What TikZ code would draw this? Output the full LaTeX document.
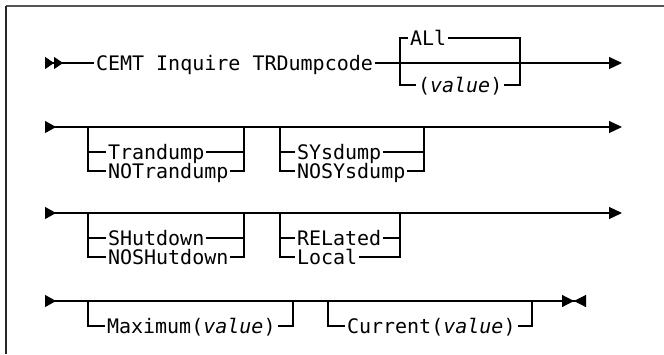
\documentclass[tikz,border=0pt]{standalone}
\usepackage{fontspec}
\setmainfont{DejaVu Sans Mono}
\usetikzlibrary{arrows.meta}
\definecolor{fgrey}{HTML}{555555}
\tikzset{
  rail/.style      = {line width=0.6pt},
  kw/.style        = {anchor=west, inner xsep=0.8pt, inner ysep=0pt,
                      text height=7pt, text depth=0pt},
  railbegin/.style = {rail, {Triangle[reversed,length=4.5pt,width=6pt]Triangle[reversed,length=4.5pt,width=6pt]}-},
  railout/.style   = {rail, -{Triangle[length=6.5pt,width=6pt]}},
  railrow/.style   = {rail, {Triangle[reversed,length=5.5pt,width=6pt]}-{Triangle[length=6.5pt,width=6pt]}},
  railstop/.style  = {rail, {Triangle[reversed,length=5.5pt,width=6pt]}-{Triangle[length=6pt,width=6pt]Triangle[reversed,length=6pt,width=6pt]}},
}
\begin{document}
\begin{tikzpicture}[x=0.5pt,y=-0.5pt,font=\fontsize{10}{12}\selectfont]
\useasboundingbox (0,0) rectangle (664,354);
\draw[fgrey,line width=1pt] (6,6) -- (664,6);
\draw[black!85,line width=1pt] (6,6) -- (6,354);
% row 1: command and ALl/(value)
\coordinate (r1s) at (45,63);
\coordinate (r1e) at (622,63);
\node[kw] (cmd) at (94,63) {CEMT Inquire TRDumpcode};
\draw[railbegin] (r1s) -- (cmd.west);
\draw[railout] (cmd.east) -- (r1e);
\coordinate (a1) at (400,63);
\coordinate (a2) at (520,63);
\node[kw] (all) at (408,38) {ALl};
\node[kw] (val) at (416,85) {(\textit{value})};
\draw[rail] (all.west) -| (a1) |- (val.west);
\draw[rail] (all.east) -| (a2) |- (val.east);
% row 2: Trandump, SYsdump
\coordinate (r2s) at (45,127);
\coordinate (r2e) at (622,127);
\draw[railrow] (r2s) -- (r2e);
\coordinate (b1) at (88,127);
\coordinate (b2) at (244,127);
\node[kw] (trd) at (106,152) {Trandump};
\node[kw] (notrd) at (106,171) {NOTrandump};
\draw[rail] (b1) |- (notrd.west);
\draw[rail] (b1 |- trd.west) -- (trd.west);
\draw[rail] (b2) |- (notrd.east);
\draw[rail] (trd.east) -- (b2 |- trd.west);
\coordinate (c1) at (280,127);
\coordinate (c2) at (424,127);
\node[kw] (sys) at (295,152) {SYsdump};
\node[kw] (nosys) at (295,171) {NOSYsdump};
\draw[rail] (c1) |- (nosys.west);
\draw[rail] (c1 |- sys.west) -- (sys.west);
\draw[rail] (c2) |- (nosys.east);
\draw[rail] (sys.east) -- (c2 |- sys.west);
% row 3: SHutdown, RELated
\coordinate (r3s) at (45,213);
\coordinate (r3e) at (622,213);
\draw[railrow] (r3s) -- (r3e);
\coordinate (d1) at (88,213);
\coordinate (d2) at (244,213);
\node[kw] (shut) at (106,238) {SHutdown};
\node[kw] (noshut) at (106,257) {NOSHutdown};
\draw[rail] (d1) |- (noshut.west);
\draw[rail] (d1 |- shut.west) -- (shut.west);
\draw[rail] (d2) |- (noshut.east);
\draw[rail] (shut.east) -- (d2 |- shut.west);
\coordinate (e1) at (280,213);
\coordinate (e2) at (400,213);
\node[kw] (rel) at (295,238) {RELated};
\node[kw] (loc) at (295,257) {Local};
\draw[rail] (e1) |- (loc.west);
\draw[rail] (e1 |- rel.west) -- (rel.west);
\draw[rail] (e2) |- (loc.east);
\draw[rail] (rel.east) -- (e2 |- rel.west);
% row 4: Maximum, Current
\coordinate (r4s) at (45,301);
\coordinate (r4e) at (586,301);
\draw[railstop] (r4s) -- (r4e);
\coordinate (f1) at (88,301);
\coordinate (f2) at (293,301);
\node[kw] (maxv) at (105,326) {Maximum(\textit{value})};
\draw[rail] (f1) |- (maxv.west);
\draw[rail] (f2) |- (maxv.east);
\coordinate (g1) at (328,301);
\coordinate (g2) at (532,301);
\node[kw] (curv) at (345,326) {Current(\textit{value})};
\draw[rail] (g1) |- (curv.west);
\draw[rail] (g2) |- (curv.east);
\end{tikzpicture}
\end{document}
